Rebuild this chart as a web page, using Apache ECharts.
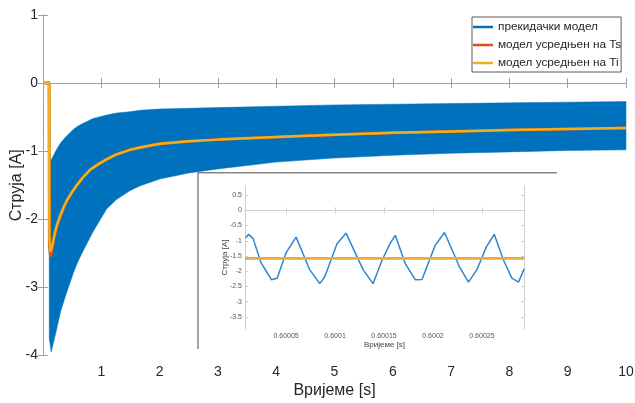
<!DOCTYPE html>
<html><head><meta charset="utf-8">
<script src="https://cdn.jsdelivr.net/npm/echarts@6/dist/echarts.min.js"></script>
<style>html,body{margin:0;padding:0;background:#fff}#c{width:635px;height:403px}</style>
</head><body><div id="c"></div>
<script>
// ---- main plot: switching-model envelope (upper / lower bounds of ripple band)
const envT     = [0.104, 0.108, 0.14, 0.23, 0.3, 0.38, 0.52, 0.6, 0.69, 0.86, 1.09, 1.26, 1.49, 1.66, 2.0, 2.5, 3, 4, 5, 6, 7, 8, 9, 10];
const envUpper = [0.03, -1.2, -1.13, -0.98, -0.88, -0.8, -0.68, -0.63, -0.59, -0.52, -0.47, -0.44, -0.42, -0.40, -0.38, -0.37, -0.36, -0.34, -0.32, -0.31, -0.30, -0.29, -0.28, -0.27];
const envLower = [0.03, -3.75, -3.95, -3.63, -3.36, -3.14, -2.79, -2.62, -2.46, -2.18, -1.85, -1.71, -1.58, -1.51, -1.41, -1.32, -1.26, -1.16, -1.1, -1.06, -1.03, -1.01, -0.99, -0.98];
// ---- averaged models
const avgT  = [0, 0.105, 0.11, 0.13, 0.16, 0.2, 0.24, 0.29, 0.35, 0.41, 0.49, 0.58, 0.68, 0.81, 0.95, 1.09, 1.25, 1.49, 1.75, 2.01, 2.5, 3, 4, 5, 6, 7, 8, 9, 10];
const avgTs = [0, 0, -2.38, -2.55, -2.42, -2.24, -2.1, -1.97, -1.84, -1.73, -1.61, -1.5, -1.39, -1.27, -1.19, -1.12, -1.05, -0.98, -0.93, -0.89, -0.855, -0.83, -0.79, -0.76, -0.73, -0.71, -0.69, -0.675, -0.66];
const avgTi = [0, 0, -2.3, -2.48, -2.38, -2.21, -2.08, -1.96, -1.83, -1.72, -1.61, -1.5, -1.39, -1.27, -1.19, -1.12, -1.05, -0.98, -0.93, -0.89, -0.855, -0.83, -0.79, -0.76, -0.73, -0.71, -0.69, -0.675, -0.66];
// ---- inset (zoom near t = 0.6 s)
const insetT = [0.6000085, 0.6000118, 0.6000163, 0.6000245, 0.600035, 0.6000408, 0.60005, 0.6000602, 0.6000741, 0.6000843, 0.6000894, 0.600102, 0.6001112, 0.6001286, 0.6001388, 0.600148, 0.6001564, 0.6001615, 0.6001717, 0.6001819, 0.6001888, 0.6002023, 0.6002118, 0.6002268, 0.6002363, 0.6002449, 0.6002544, 0.6002626, 0.6002721, 0.6002806, 0.6002874, 0.6002932];
const insetI = [-0.90, -0.79, -0.93, -1.73, -2.28, -2.23, -1.39, -0.88, -1.95, -2.41, -2.19, -1.10, -0.75, -1.95, -2.41, -1.64, -1.08, -0.82, -1.75, -2.28, -2.27, -1.15, -0.73, -1.84, -2.36, -1.95, -1.21, -0.79, -1.64, -2.23, -2.36, -1.92];
const insetAvgT = [0.600008, 0.600293];
const insetAvg  = [-1.58, -1.58];
const insetXTicks = [0.60005, 0.6001, 0.60015, 0.6002, 0.60025];
const insetYTicks = [0.5, 0, -0.5, -1, -1.5, -2, -2.5, -3, -3.5];

const names = ['прекидачки модел', 'модел усредњен на Ts', 'модел усредњен на Ti'];
const FONT = 'Liberation Sans, Arial, sans-serif';
const AX = '#a0a0a0';
const TXT = '#262626';
const BLUE = '#0072BD';

const zip = (a, b) => a.map((v, i) => [v, b[i]]);

const chart = echarts.init(document.getElementById('c'), null, {renderer: 'canvas'});
const mainAxisCommon = {
  axisLine: {show: true, lineStyle: {color: AX, width: 1}},
  axisTick: {show: true, inside: true, length: 5, lineStyle: {color: AX}},
  splitLine: {show: false}
};
const inAxLine = {show: true, lineStyle: {color: '#cfcfcf', width: 1}};
const inTick = vals => ({show: true, inside: true, length: 3, customValues: vals, lineStyle: {color: '#cfcfcf'}});

chart.setOption({
  animation: false,
  backgroundColor: '#fff',
  textStyle: {fontFamily: FONT},
  grid: [
    {left: 43, right: 9, top: 15, bottom: 47.5, outerBoundsMode: 'none'},
    {left: 245, right: 111, top: 186, bottom: 74, outerBoundsMode: 'none', z: 20}
  ],
  legend: {
    orient: 'vertical', left: 472, top: 17,
    data: names, icon: 'rect', itemWidth: 20, itemHeight: 2.5, itemGap: 4,
    padding: [3, 0, 2, 1],
    textStyle: {fontSize: 11.8, color: TXT, fontFamily: FONT, lineHeight: 14},
    borderColor: '#333', borderWidth: 0.8, backgroundColor: '#fff'
  },
  graphic: [
    {type: 'rect', z: 10, shape: {x: 198, y: 172.7, width: 359, height: 176.3}, style: {fill: '#fff'}},
    {type: 'polyline', z: 11, shape: {points: [[198, 349], [198, 172.7], [557, 172.7]]}, style: {stroke: '#858585', lineWidth: 1.5, fill: null}}
  ],
  xAxis: [
    Object.assign({type: 'value', gridIndex: 0, position: 'bottom', min: 0, max: 10, interval: 1,
      name: 'Вријеме [s]', nameLocation: 'middle', nameGap: 27, nameMoveOverlap: false,
      nameTextStyle: {fontSize: 16, color: TXT, fontFamily: FONT},
      axisLabel: {fontSize: 14, color: TXT, margin: 10, fontFamily: FONT, formatter: v => v === 0 ? '' : String(v)}}, mainAxisCommon),
    Object.assign({type: 'value', gridIndex: 0, position: 'top', min: 0, max: 10, interval: 1, axisLabel: {show: false}}, mainAxisCommon),
    {type: 'value', gridIndex: 1, position: 'bottom', min: insetAvgT[0], max: insetAvgT[1], z: 20,
      name: 'Вријеме [s]', nameLocation: 'middle', nameGap: 12, nameMoveOverlap: false,
      nameTextStyle: {fontSize: 8, color: '#444', fontFamily: FONT},
      axisLabel: {fontSize: 7, color: '#555', margin: 4, customValues: insetXTicks, formatter: v => String(v)},
      axisTick: inTick(insetXTicks), axisLine: inAxLine, splitLine: {show: false}},
    {type: 'value', gridIndex: 1, position: 'top', min: insetAvgT[0], max: insetAvgT[1], z: 20,
      axisLabel: {show: false}, axisTick: inTick(insetXTicks), axisLine: inAxLine, splitLine: {show: false}}
  ],
  yAxis: [
    Object.assign({type: 'value', gridIndex: 0, position: 'left', min: -4, max: 1, interval: 1,
      name: 'Струја [A]', nameLocation: 'middle', nameGap: 18, nameMoveOverlap: false,
      nameTextStyle: {fontSize: 16, color: TXT, fontFamily: FONT},
      axisLabel: {fontSize: 14, color: TXT, margin: 5, fontFamily: FONT}}, mainAxisCommon),
    Object.assign({type: 'value', gridIndex: 0, position: 'right', min: -4, max: 1, interval: 1, axisLabel: {show: false}}, mainAxisCommon),
    {type: 'value', gridIndex: 1, position: 'left', min: -3.9, max: 0.8, z: 20,
      name: 'Струја [A]', nameLocation: 'middle', nameGap: 16, nameMoveOverlap: false,
      nameTextStyle: {fontSize: 8, color: '#444', fontFamily: FONT},
      axisLabel: {fontSize: 7, color: '#555', margin: 3, customValues: insetYTicks, formatter: v => String(v)},
      axisTick: inTick(insetYTicks), axisLine: inAxLine, splitLine: {show: false}},
    {type: 'value', gridIndex: 1, position: 'right', min: -3.9, max: 0.8, z: 20,
      axisLabel: {show: false}, axisTick: inTick(insetYTicks), axisLine: inAxLine, splitLine: {show: false}}
  ],
  series: [
    {name: names[0], type: 'custom', xAxisIndex: 0, yAxisIndex: 0,
      data: envT.map((t, i) => [t, envUpper[i], envLower[i]]),
      encode: {x: 0, y: [1, 2]},
      itemStyle: {color: BLUE},
      renderItem: function (params, api) {
        if (params.dataIndex !== 0) return null;
        const pts = [];
        for (let i = 0; i < envT.length; i++) pts.push(api.coord([envT[i], envUpper[i]]));
        for (let i = envT.length - 1; i >= 0; i--) pts.push(api.coord([envT[i], envLower[i]]));
        return {type: 'polygon', shape: {points: pts}, style: {fill: BLUE, stroke: BLUE, lineWidth: 0.5}};
      }},
    {name: names[1], type: 'line', xAxisIndex: 0, yAxisIndex: 0, data: zip(avgT, avgTs),
      showSymbol: false, symbol: 'none', lineStyle: {color: '#D95319', width: 3}, itemStyle: {color: '#D95319'}},
    {name: names[2], type: 'line', xAxisIndex: 0, yAxisIndex: 0, data: zip(avgT, avgTi),
      showSymbol: false, symbol: 'none', lineStyle: {color: '#EDB120', width: 2.5}, itemStyle: {color: '#EDB120'}},
    {name: 'insetSw', type: 'line', xAxisIndex: 2, yAxisIndex: 2, data: zip(insetT, insetI), z: 20,
      showSymbol: false, symbol: 'none', lineStyle: {color: '#2f86cf', width: 1.5}},
    {name: 'insetAvg', type: 'line', xAxisIndex: 2, yAxisIndex: 2, data: zip(insetAvgT, insetAvg), z: 21,
      showSymbol: false, symbol: 'none', lineStyle: {color: '#EFA83A', width: 2.7}}
  ]
});
</script></body></html>
